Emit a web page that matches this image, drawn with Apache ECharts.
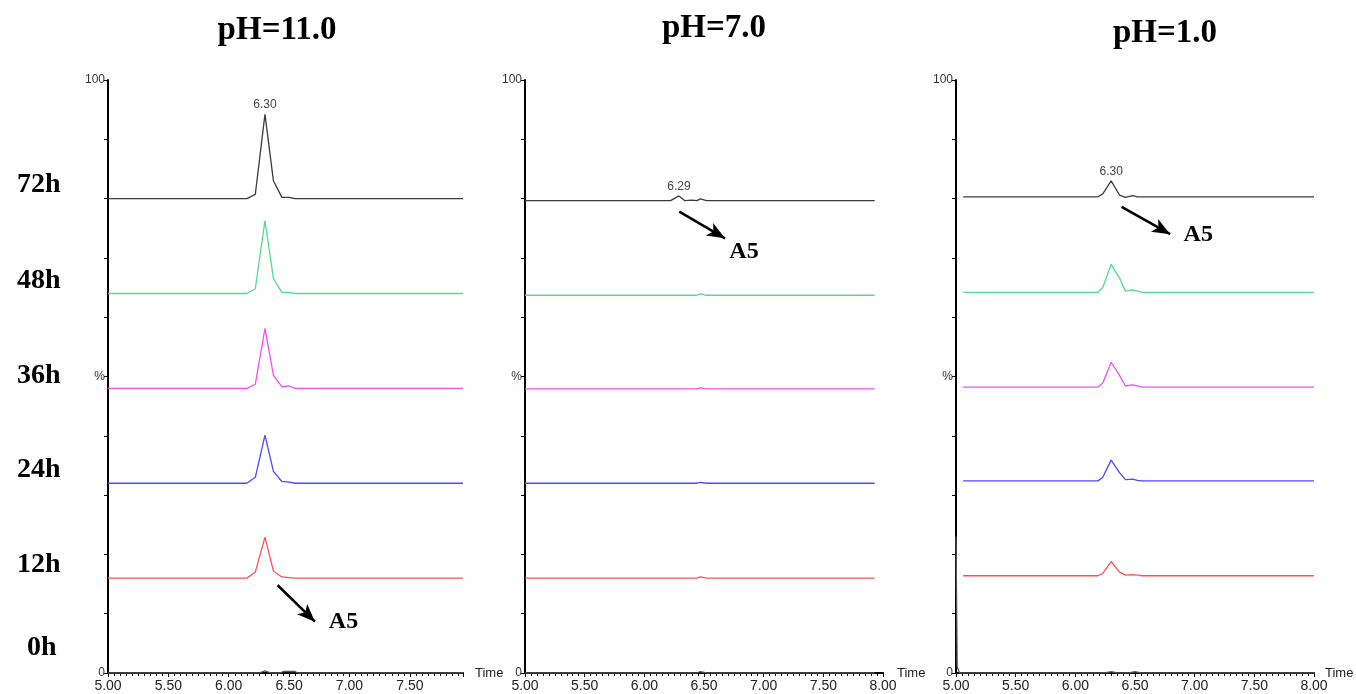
<!DOCTYPE html>
<html>
<head>
<meta charset="utf-8">
<script src="https://cdn.jsdelivr.net/npm/echarts@6/dist/echarts.min.js"></script>
<style>
  html, body { margin: 0; padding: 0; background: #fff; }
  #main { width: 1356px; height: 694px; }
</style>
</head>
<body>
<div id="main"></div>
<script>
const titles = ['pH=11.0', 'pH=7.0', 'pH=1.0'];
const rowLabels = ['72h', '48h', '36h', '24h', '12h', '0h'];
const xMax = [7.94, 8.0, 8.0];

// pH 11.0
const ph11Time = [5.00, 6.15, 6.22, 6.30, 6.37, 6.44, 6.50, 6.55, 7.94];
const ph11_72h = [80.0, 80.0, 80.7, 94.2, 83.0, 80.2, 80.2, 80.0, 80.0];
const ph11_48h = [64.0, 64.0, 64.8, 76.3, 66.5, 64.2, 64.2, 64.0, 64.0];
const ph11_36h = [48.0, 48.0, 48.7, 58.1, 50.2, 48.3, 48.4, 48.0, 48.0];
const ph11_24h = [32.0, 32.0, 33.0, 40.1, 34.0, 32.3, 32.2, 32.0, 32.0];
const ph11_12h = [16.0, 16.0, 17.0, 22.9, 17.2, 16.2, 16.1, 16.0, 16.0];
const ph11Time0 = [5.00, 6.25, 6.30, 6.35, 6.43, 6.45, 6.55, 6.57, 7.94];
const ph11_0h = [0, 0, 0.35, 0, 0, 0.25, 0.25, 0, 0];

// pH 7.0
const ph7Time = [5.00, 6.22, 6.29, 6.34, 6.40, 6.44, 6.47, 6.52, 7.93];
const ph7_72h = [79.65, 79.65, 80.45, 79.65, 79.75, 79.65, 79.95, 79.65, 79.65];
const ph7_48h = [63.7, 63.7, 63.7, 63.7, 63.7, 63.7, 63.95, 63.7, 63.7];
const ph7_36h = [47.9, 47.9, 47.9, 47.9, 47.9, 47.9, 48.1, 47.9, 47.9];
const ph7_24h = [32.0, 32.0, 32.0, 32.0, 32.0, 32.0, 32.15, 32.0, 32.0];
const ph7_12h = [16.0, 16.0, 16.0, 16.0, 16.0, 16.0, 16.2, 16.0, 16.0];
const ph7Time0 = [5.00, 6.44, 6.47, 6.52, 7.93];
const ph7_0h = [0, 0, 0.25, 0, 0];

// pH 1.0
const ph1Time = [5.06, 6.19, 6.23, 6.30, 6.37, 6.42, 6.48, 6.52, 6.56, 8.00];
const ph1_72h = [80.3, 80.3, 80.8, 83.0, 80.6, 80.2, 80.5, 80.3, 80.3, 80.3];
const ph1_48h = [64.2, 64.2, 65.0, 68.9, 66.6, 64.4, 64.6, 64.4, 64.2, 64.2];
const ph1_36h = [48.2, 48.2, 48.9, 52.4, 50.2, 48.4, 48.6, 48.4, 48.2, 48.2];
const ph1_24h = [32.4, 32.4, 33.0, 35.9, 33.8, 32.6, 32.7, 32.5, 32.4, 32.4];
const ph1_12h = [16.4, 16.4, 16.8, 18.8, 17.0, 16.5, 16.6, 16.5, 16.4, 16.4];
const ph1Time0 = [5.00, 5.01, 5.03, 6.25, 6.30, 6.35, 6.45, 6.50, 6.55, 8.00];
const ph1_0h = [23, 1, 0, 0, 0.25, 0, 0, 0.25, 0, 0];

// peak annotations
const peakLabels = ['6.30', '6.29', '6.30'];
const peakTimes = [6.30, 6.29, 6.30];
const peakValues = [94.2, 80.45, 83.0];
const arrowStart = [[6.405, 14.8], [6.293, 77.8], [6.388, 78.6]];
const arrowEnd = [[6.714, 8.65], [6.676, 73.3], [6.795, 74.0]];
const a5Pos = [[6.95, 8.65], [6.835, 71.0], [7.03, 73.9]];

const colors = ['#3c3c3c', '#52db91', '#f24ff2', '#4a4aff', '#ff5252', '#555555'];

const panels = [
  { time: ph11Time, time0: ph11Time0, rows: [ph11_72h, ph11_48h, ph11_36h, ph11_24h, ph11_12h], zero: ph11_0h },
  { time: ph7Time, time0: ph7Time0, rows: [ph7_72h, ph7_48h, ph7_36h, ph7_24h, ph7_12h], zero: ph7_0h },
  { time: ph1Time, time0: ph1Time0, rows: [ph1_72h, ph1_48h, ph1_36h, ph1_24h, ph1_12h], zero: ph1_0h }
];

const gridLefts = [108, 525, 956];
const gridWidths = [355, 358, 358];
const nameGaps = [12, 14, 11];
const titleX = [277, 714, 1165];
const titleY = [30, 28, 33];
const rowY = [185, 281, 376, 470, 565, 648];

const zip = (t, v) => t.map((x, i) => [x, v[i]]);

const grid = gridLefts.map((l, i) => ({
  left: l, top: 80, width: gridWidths[i], height: 593,
  containLabel: false, outerBoundsMode: 'none'
}));

const xAxis = gridLefts.map((l, i) => ({
  type: 'value', gridIndex: i, min: 5, max: xMax[i], interval: 0.5,
  name: 'Time', nameLocation: 'end', nameGap: nameGaps[i],
  nameMoveOverlap: false,
  nameTextStyle: { color: '#222', fontSize: 13, fontFamily: 'Liberation Sans' },
  axisLine: { lineStyle: { color: '#000', width: 2 } },
  axisTick: { length: 4, lineStyle: { color: '#000', width: 1 } },
  minorTick: { show: true, splitNumber: 10, length: 3, lineStyle: { color: '#000', width: 1 } },
  splitLine: { show: false },
  axisLabel: {
    color: '#222', fontSize: 14, fontFamily: 'Liberation Sans', margin: 6,
    showMaxLabel: i !== 0,
    formatter: v => v.toFixed(2)
  }
}));

const yAxis = gridLefts.map((l, i) => ({
  type: 'value', gridIndex: i, min: 0, max: 100, interval: 10,
  axisLine: { show: true, lineStyle: { color: '#000', width: 2 } },
  axisTick: { show: true, length: 4, lineStyle: { color: '#000', width: 1 } },
  splitLine: { show: false },
  axisLabel: {
    color: '#333', fontSize: 12, fontFamily: 'Liberation Sans', margin: 3,
    formatter: v => (v === 0 ? '0' : v === 100 ? '100' : v === 50 ? '%' : '')
  }
}));

const series = [];
panels.forEach((p, pi) => {
  p.rows.forEach((vals, ri) => {
    const s = {
      type: 'line', xAxisIndex: pi, yAxisIndex: pi,
      data: zip(p.time, vals),
      symbol: 'none', showSymbol: false,
      lineStyle: { color: colors[ri], width: 1.3 },
      z: 3
    };
    if (ri === 0) {
      s.markPoint = {
        symbol: 'circle', symbolSize: 1,
        itemStyle: { color: 'rgba(0,0,0,0)' },
        data: [
          {
            coord: [peakTimes[pi], peakValues[pi]],
            label: { show: true, position: 'top', distance: 3, formatter: peakLabels[pi],
              color: '#444', fontSize: 12, fontFamily: 'Liberation Sans' }
          },
          {
            coord: a5Pos[pi],
            label: { show: true, position: 'inside', formatter: 'A5',
              color: '#000', fontSize: 24, fontWeight: 'bold', fontFamily: 'Liberation Serif' }
          }
        ]
      };
      s.markLine = {
        silent: true,
        symbol: ['none', 'arrow'],
        symbolSize: [11, 18],
        label: { show: false },
        lineStyle: { color: '#000', width: 2.5, type: 'solid' },
        data: [[{ coord: arrowStart[pi] }, { coord: arrowEnd[pi] }]]
      };
    }
    series.push(s);
  });
  series.push({
    type: 'line', xAxisIndex: pi, yAxisIndex: pi,
    data: zip(p.time0, p.zero),
    symbol: 'none', showSymbol: false,
    lineStyle: { color: colors[5], width: 1.3 },
    z: 1
  });
});

const graphic = [];
titles.forEach((t, i) => {
  graphic.push({
    type: 'text', x: titleX[i], y: titleY[i],
    style: { text: t, textAlign: 'center', textVerticalAlign: 'middle',
      font: 'bold 33px "Liberation Serif"', fill: '#000' }
  });
});
rowLabels.forEach((t, i) => {
  graphic.push({
    type: 'text', x: 17 + (t.length === 2 ? 10 : 0), y: rowY[i],
    style: { text: t, textAlign: 'left', textVerticalAlign: 'middle',
      font: 'bold 28px "Liberation Serif"', fill: '#000' }
  });
});

const myChart = echarts.init(document.getElementById('main'));
myChart.setOption({
  animation: false,
  backgroundColor: '#fff',
  grid, xAxis, yAxis, series, graphic
});
window.addEventListener('resize', function () {
  myChart.resize();
});
</script>
</body>
</html>
